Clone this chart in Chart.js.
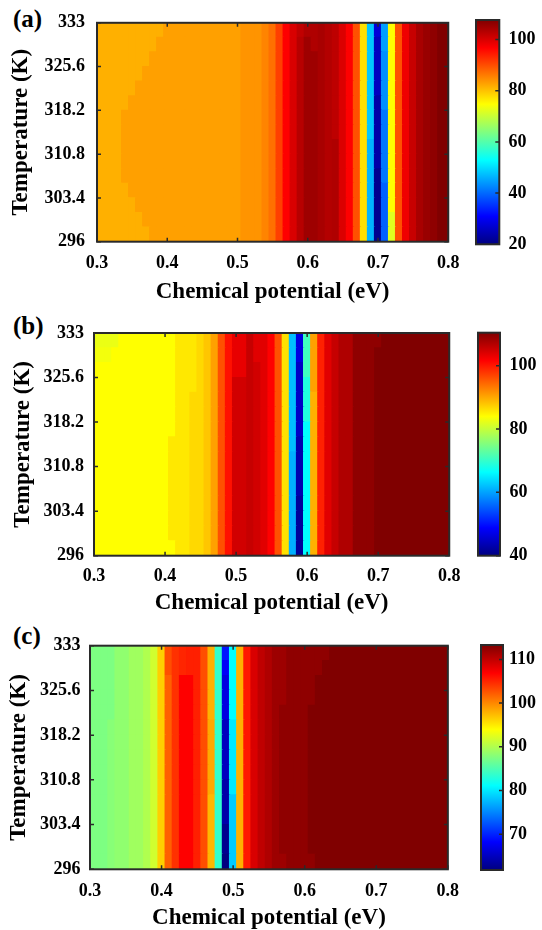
<!DOCTYPE html>
<html><head><meta charset="utf-8">
<script src="https://cdn.jsdelivr.net/npm/chart.js@4.4.0/dist/chart.umd.min.js"></script>
<style>
html,body{margin:0;padding:0;background:#fff}
body{width:542px;height:930px;overflow:hidden;position:relative}
canvas{position:absolute}
.lbl{position:absolute;font:bold 25px/25px "Liberation Serif","Times New Roman",serif;color:#000;white-space:nowrap}
</style></head><body>
<div class="lbl" style="left:13px;top:6px">(a)</div>
<div class="lbl" style="left:13px;top:313px">(b)</div>
<div class="lbl" style="left:13px;top:623px">(c)</div>
<canvas id="mA" width="470" height="310" style="left:0;top:0"></canvas>
<canvas id="cA" width="72" height="310" style="left:470px;top:0"></canvas>
<canvas id="mB" width="470" height="310" style="left:0;top:310px"></canvas>
<canvas id="cB" width="72" height="310" style="left:470px;top:310px"></canvas>
<canvas id="mC" width="470" height="310" style="left:0;top:620px"></canvas>
<canvas id="cC" width="72" height="310" style="left:470px;top:620px"></canvas>
<script>
// ---------------- data ----------------
const chemPot = [0.30,0.31,0.32,0.33,0.34,0.35,0.36,0.37,0.38,0.39,0.40,0.41,0.42,0.43,0.44,0.45,0.46,0.47,0.48,0.49,0.50,
  0.51,0.52,0.53,0.54,0.55,0.56,0.57,0.58,0.59,0.60,0.61,0.62,0.63,0.64,0.65,0.66,0.67,0.68,0.69,0.70,
  0.71,0.72,0.73,0.74,0.75,0.76,0.77,0.78,0.79,0.80];
const tempEdges = [296.00,298.47,300.93,303.40,305.87,308.33,310.80,313.27,315.73,318.20,320.67,323.13,325.60,328.07,330.53,333.00];
const xTickLabels = [0.3,0.4,0.5,0.6,0.7,0.8];
const yTickLabels = [296,303.4,310.8,318.2,325.6,333];
const cbTicksA = [20,40,60,80,100];
const cbTicksB = [40,60,80,100];
const cbTicksC = [70,80,90,100,110];
const cbRangeA = [20,107.6];
const cbRangeB = [40,110.4];
const cbRangeC = [61.8,113.3];

// column profiles (value for each chemical potential), rows indexed from 296 K upward
const profileA = [81.5,81.5,81.5,81.5,
  82.9,82.9,82.9,82.9,82.9,82.9,82.9,82.9,82.9,82.9,82.9,82.9,82.9,82.9,82.9,82.9,82.9,
  83.9,83.9,83.9,85.3,87.0,91.2,96.7,99.9,102.8,105.0,105.0,104.1,103.2,102.3,99.7,96.7,89.8,77.4,48.0,23.5,
  41.2,74.8,89.8,98.0,101.5,104.1,105.4,106.3,107.6,107.6];
// [colFrom, colTo, rowFrom, rowTo, value]
const patchesA = [[4,9,14,14,81.5],[4,8,13,13,81.5],[4,7,12,12,81.5],[4,6,11,11,81.5],[4,5,10,10,81.5],[4,4,9,9,81.5],
  [4,4,3,3,81.5],[4,5,2,2,81.5],[4,6,1,1,81.5],[4,7,0,0,81.5],
  [29,29,14,14,102.1],[30,30,14,14,103.5],[31,31,13,14,103.5],[34,34,0,6,103.5],
  [39,39,0,6,46.3],
  [40,40,14,14,27.7],[40,40,10,13,25.5],[40,40,0,4,21.4],
  [41,41,13,14,44.5],[41,41,9,12,43.2],[41,41,0,3,39.2],
  [42,42,0,1,72.1]];

const profileB = [84.0,84.0,84.0,84.0,84.0,84.0,84.0,84.0,84.0,84.0,84.0,
  84.0,85.6,85.6,86.6,86.6,87.9,90.5,96.1,100.5,104.8,104.8,105.5,104.8,103.7,101.6,96.1,86.1,62.0,43.3,66.4,
  89.4,99.4,103.7,105.5,107.1,107.1,109.3,109.3,109.3,
  110.4,110.4,110.4,110.4,110.4,110.4,110.4,110.4,110.4,110.4,110.4];
const patchesB = [[0,3,14,14,82.6],[0,2,13,13,83.2],
  [11,11,1,7,85.6],[14,14,11,14,85.6],
  [20,21,12,14,103.2],[23,23,13,14,103.7],
  [28,28,0,6,60.9],
  [29,29,13,14,46.7],[29,29,8,12,44.9],[29,29,0,3,41.8],
  [30,30,12,14,70.8],[30,30,9,11,68.6],
  [31,31,11,14,90.5],
  [40,40,14,14,109.3]];

const profileC = [87.4,87.4,87.4,88.0,88.4,88.4,89.2,89.2,
  90.0,91.6,96.4,102.0,104.4,106.9,106.9,105.3,102.9,98.4,83.6,65.0,80.0,98.0,105.7,108.8,110.1,110.9,111.8,
  112.5,112.5,112.5,112.5,113.3,113.3,113.3,
  113.3,113.3,113.3,113.3,113.3,113.3,113.3,113.3,113.3,113.3,113.3,113.3,113.3,113.3,113.3,113.3,113.3];
const patchesC = [[3,3,10,14,87.4],
  [11,11,13,14,102.9],[13,13,13,14,105.0],[14,14,13,14,105.3],
  [17,17,10,14,98.0],[17,17,0,4,97.6],
  [19,19,14,14,69.4],[19,19,13,13,67.9],[19,19,10,12,66.7],[19,19,3,5,63.9],[19,19,1,2,62.6],[19,19,0,0,61.8],
  [20,20,10,14,81.1],[20,20,0,4,78.5],
  [27,27,11,14,111.8],[27,27,0,0,111.8],
  [31,31,11,14,112.5],[31,31,0,0,112.5],
  [32,32,13,14,112.5],[33,33,14,14,112.5]];

// ---------------- drawing ----------------
const FONT = '"Liberation Serif","Times New Roman",serif';
const clamp01 = v => Math.max(0, Math.min(1, v));
function jetColor(v, lo, hi) {
  const t = clamp01((v - lo) / (hi - lo));
  const r = clamp01(1.5 - Math.abs(4 * t - 3));
  const g = clamp01(1.5 - Math.abs(4 * t - 2));
  const b = clamp01(1.5 - Math.abs(4 * t - 1));
  return 'rgb(' + Math.round(r * 255) + ',' + Math.round(g * 255) + ',' + Math.round(b * 255) + ')';
}
const jetStops = [[0,'#000080'],[0.125,'#0000ff'],[0.375,'#00ffff'],[0.625,'#ffff00'],[0.875,'#ff0000'],[1,'#800000']];

function buildGrid(profile, patches) {
  const g = tempEdges.slice(1).map(() => profile.slice());
  patches.forEach(([c0, c1, r0, r1, v]) => {
    for (let r = r0; r <= r1; r++) for (let c = c0; c <= c1; c++) g[r][c] = v;
  });
  return g;
}

const frame = {
  id: 'frame',
  afterDatasetsDraw(chart, args, o) {
    const {ctx, chartArea: a, scales} = chart;
    ctx.save();
    ctx.strokeStyle = '#2a2a2a';
    ctx.lineWidth = 1.5;
    ctx.beginPath();
    (o.xTicks || []).forEach(v => {
      const p = scales.x.getPixelForValue(v);
      ctx.moveTo(p, a.top); ctx.lineTo(p, a.top + 4);
      ctx.moveTo(p, a.bottom); ctx.lineTo(p, a.bottom - 4);
    });
    (o.yTicks || []).forEach(v => {
      const p = scales.y.getPixelForValue(v);
      if (o.left) { ctx.moveTo(a.left, p); ctx.lineTo(a.left + 4, p); }
      ctx.moveTo(a.right, p); ctx.lineTo(a.right - 4, p);
    });
    ctx.stroke();
    ctx.lineWidth = 2;
    ctx.strokeRect(a.left, a.top, a.right - a.left, a.bottom - a.top);
    ctx.restore();
  }
};

const tickFont = {family: FONT, size: 18, weight: 'bold'};
const titleFont = {family: FONT, size: 23, weight: 'bold', lineHeight: 1};

function heatmap(id, grid, range, L) {
  const datasets = grid.map((row, r) => ({
    data: row.map((v, i) => ({x: chemPot[i], y: [tempEdges[r], tempEdges[r + 1]], v: v})),
    backgroundColor: c => (c.raw ? jetColor(c.raw.v, range[0], range[1]) : '#000'),
    borderWidth: 0, grouped: false, barPercentage: 1, categoryPercentage: 1,
    inflateAmount: 0.6, clip: 0
  }));
  new Chart(document.getElementById(id), {
    type: 'bar',
    data: {datasets},
    options: {
      responsive: false, animation: false, devicePixelRatio: 1, events: [],
      layout: {padding: {left: 0, right: L.padR, top: L.padT, bottom: 0}},
      plugins: {legend: {display: false}, tooltip: {enabled: false},
        frame: {xTicks: xTickLabels, yTicks: yTickLabels, left: true}},
      scales: {
        x: {type: 'linear', min: 0.3, max: 0.8, offset: false,
          grid: {display: false, drawTicks: false}, border: {display: false},
          afterBuildTicks: s => { s.ticks = xTickLabels.map(v => ({value: v})); },
          afterFit: s => { s.height = L.xH; },
          ticks: {padding: L.xTickPad, color: '#000', font: tickFont, maxRotation: 0, autoSkip: false,
            callback: v => Number(v).toFixed(1)},
          title: {display: true, text: 'Chemical potential (eV)', color: '#000', font: titleFont,
            padding: {top: 0, bottom: L.xTitlePad}}},
        y: {type: 'linear', min: 296, max: 333, beginAtZero: false,
          grid: {display: false, drawTicks: false}, border: {display: false},
          afterBuildTicks: s => { s.ticks = yTickLabels.map(v => ({value: v})); },
          afterFit: s => { s.width = L.yW; },
          ticks: {padding: L.yTickPad, color: '#000', font: tickFont, autoSkip: false,
            callback: v => String(v)},
          title: {display: true, text: 'Temperature (K)', color: '#000', font: titleFont,
            padding: {top: L.yTitlePad, bottom: 0}}}
      }
    },
    plugins: [frame]
  });
}

function colorbar(id, range, ticks, L) {
  new Chart(document.getElementById(id), {
    type: 'bar',
    data: {labels: ['cb'], datasets: [{
      data: [[range[0], range[1]]],
      backgroundColor: c => {
        const a = c.chart.chartArea;
        if (!a) return '#800000';
        const g = c.chart.ctx.createLinearGradient(0, a.bottom, 0, a.top);
        jetStops.forEach(([p, col]) => g.addColorStop(p, col));
        return g;
      },
      borderWidth: 0, barPercentage: 1, categoryPercentage: 1, clip: 0
    }]},
    options: {
      responsive: false, animation: false, devicePixelRatio: 1, events: [],
      layout: {padding: {left: L.padL, right: 0, top: L.padT, bottom: L.padB}},
      plugins: {legend: {display: false}, tooltip: {enabled: false}, frame: {yTicks: ticks, left: false}},
      scales: {
        x: {display: false},
        y: {position: 'right', min: range[0], max: range[1], beginAtZero: false,
          grid: {display: false, drawTicks: false}, border: {display: false},
          afterBuildTicks: s => { s.ticks = ticks.map(v => ({value: v})); },
          afterFit: s => { s.width = L.w; },
          ticks: {padding: L.tickPad, color: '#000', font: tickFont, autoSkip: false, callback: v => String(v)}}
      }
    },
    plugins: [frame]
  });
}

heatmap('mA', buildGrid(profileA, patchesA), cbRangeA,
  {padT: 20.5, padR: 19, yW: 97, xH: 68.3, xTickPad: 10.5, xTitlePad: 6.5, yTickPad: 12, yTitlePad: 10});
colorbar('cA', cbRangeA, cbTicksA, {padL: 6, padT: 20, padB: 65.7, w: 42.7, tickPad: 9.2});

heatmap('mB', buildGrid(profileB, patchesB), cbRangeB,
  {padT: 23, padR: 16.7, yW: 94, xH: 64.3, xTickPad: 9.5, xTitlePad: 5.5, yTickPad: 10, yTitlePad: 11.1});
colorbar('cB', cbRangeB, cbTicksB, {padL: 8, padT: 22.7, padB: 64.3, w: 42, tickPad: 9.5});

heatmap('mC', buildGrid(profileC, patchesC), cbRangeC,
  {padT: 25.7, padR: 14, yW: 90, xH: 60.7, xTickPad: 10.9, xTitlePad: 0.5, yTickPad: 9.5, yTitlePad: 7.5});
colorbar('cC', cbRangeC, cbTicksC, {padL: 11, padT: 25, padB: 60, w: 39, tickPad: 6});
</script>
</body></html>
